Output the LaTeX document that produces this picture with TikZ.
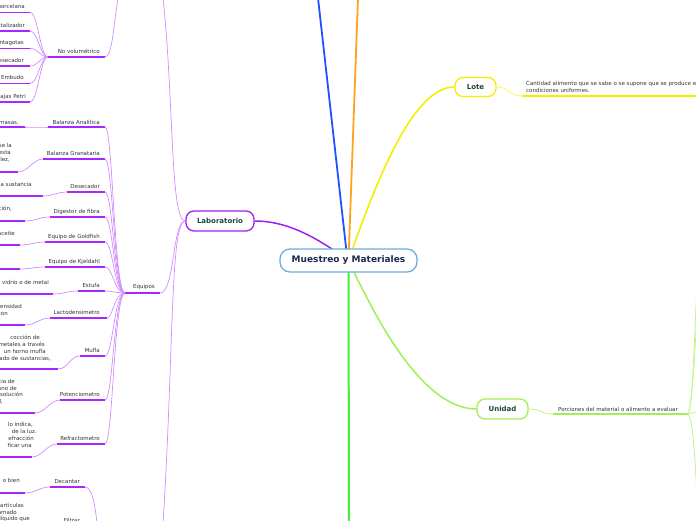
\documentclass[tikz,border=0pt]{standalone}
\usepackage{fontspec}
\setmainfont{DejaVu Sans}
\usetikzlibrary{calc,backgrounds}
\definecolor{ctext}{HTML}{333333}
\definecolor{cdark}{HTML}{1E4A3A}
\definecolor{cnavy}{HTML}{1B2A4E}
\definecolor{croot}{HTML}{6AAEE0}
\definecolor{cblue}{HTML}{2050FF}
\definecolor{corange}{HTML}{FFA21F}
\definecolor{cyellow}{HTML}{F0F000}
\definecolor{cyellowl}{HTML}{F8F860}
\definecolor{cgreen}{HTML}{45EE3A}
\definecolor{clime}{HTML}{A0F050}
\definecolor{climel}{HTML}{BFF585}
\definecolor{cmain}{HTML}{A020F0}
\definecolor{cpurple}{HTML}{A826FF}
\definecolor{clight}{HTML}{D08CFF}
\newcommand\eqitem[8]{%
 \coordinate (#1L) at (#4,#6); \coordinate (#1R) at (#5,#6);
 \coordinate (#1cL) at (-5,#8); \coordinate (#1cR) at (#7,#8);
 \draw[uline] (#1L) -- (#1R);
 \draw[uline] (#1cL) -- (#1cR);
 \node[lbl,anchor=base east] (#1T) at (100,#3) {#2};
 \draw[conn] (#1cR) .. controls ($(#1cR)+(10,0)$) and ($(#1L)-(10,0)$) .. (#1L);
 \draw[conn] (#1R) .. controls (113,#6) and (114,293) .. (eqL);
}
\newcommand\nvitem[4]{%
 \coordinate (#1L) at (-5,#4); \coordinate (#1R) at (30,#4);
 \draw[uline] (#1L) -- (#1R);
 \node[lbl,anchor=base east] (#1T) at (#3,#4-3.7) {#2};
 \draw[conn] (#1R) .. controls (38,#4) and (40,57) .. (nvL);
}
\begin{document}
\begin{tikzpicture}[x=1pt,y=-1pt,
 lbl/.style={font=\fontsize{5.5}{6.6}\selectfont, text=ctext, inner sep=0pt},
 uline/.style={draw=cpurple, line width=1.5pt},
 conn/.style={draw=clight, line width=0.7pt},
 topic/.style={draw, fill=white, rounded corners=8pt, line width=1.3pt,
   font=\bfseries\fontsize{7}{8}\selectfont, text=cdark, inner sep=0pt}
]
\useasboundingbox (0,0) rectangle (696,520);
\clip (0,0) rectangle (696,520);

% main nodes
\node[topic, draw=croot, rounded corners=10pt, minimum width=137pt, minimum height=23pt,
  font=\bfseries\fontsize{9}{10}\selectfont, text=cnavy] (root) at (348.5,260.5) {Muestreo y Materiales};
\node[topic, draw=cmain, minimum width=68pt, minimum height=20pt] (lab) at (220,221) {Laboratorio};
\node[topic, draw=cyellow, minimum width=41pt, minimum height=19pt] (lote) at (475.5,87) {Lote};
\node[topic, draw=clime, minimum width=51pt, minimum height=20pt] (uni) at (502.5,409) {Unidad};

\coordinate (bTop) at (318,-2);
\coordinate (oTop) at (358,-2);
\coordinate (gBot) at (349,523);
\begin{scope}[on background layer]
\draw[cblue, line width=1.8pt] (bTop) -- ([xshift=-1pt]root.center);
\draw[corange, line width=1.8pt] (oTop) -- (root.center);
\draw[cyellow, line width=1.6pt] (root.center) .. controls (380,170) and (415,87) .. (lote.west);
\draw[cmain, line width=1.5pt] (lab.east) .. controls (290,221) and (320,240) .. (root.center);
\draw[cgreen, line width=2pt] (root.center) -- (gBot);
\draw[clime, line width=1.5pt] (root.center) .. controls (372,310) and (420,409) .. (uni.west);
\end{scope}

% Lote detail
\coordinate (loL) at (522,96); \coordinate (loR) at (700,96);
\draw[cyellow, line width=1.6pt] (loL) -- (loR);
\draw[cyellowl, line width=0.8pt] (lote.east) .. controls (510,87) and (508,96) .. (loL);
\node[lbl, anchor=base west] (lot1) at (526,85.5) {Cantidad alimento que se sabe o se supone que se produce en};
\node[lbl, anchor=base west] (lot2) at (526,92.3) {condiciones uniformes.};

% Unidad detail
\coordinate (unL) at (553,414); \coordinate (unR) at (687,414);
\draw[clime, line width=1.5pt] (unL) -- (unR);
\draw[climel, line width=0.8pt] (uni.east) .. controls (542,409) and (540,414) .. (unL);
\node[lbl, anchor=base] (unt) at (618,411) {Porciones del material o alimento a evaluar};
\coordinate (un1) at (697,287); \coordinate (un2) at (697,312);
\coordinate (un3) at (697,412); \coordinate (un4) at (697,498);
\draw[climel, line width=0.8pt] (unR) .. controls (693,414) and (694,340) .. (un1);
\draw[climel, line width=0.8pt] (unR) .. controls (692,414) and (695,350) .. (un2);
\draw[climel, line width=0.8pt] (unR) -- (un3);
\draw[climel, line width=0.8pt] (unR) .. controls (693,414) and (695,460) .. (un4);

% Laboratorio branches
\coordinate (eqL) at (125,293); \coordinate (eqR) at (160,293);
\draw[uline] (eqL) -- (eqR);
\node[lbl, anchor=base east] (eqT) at (155,288.5) {Equipos};
\coordinate (labUp) at (163,-2); \coordinate (labDn) at (163,523);
\draw[conn] (lab.west) .. controls (172,221) and (175,293) .. (eqR);
\draw[conn] (lab.west) .. controls (170,221) and (174,100) .. (labUp);
\draw[conn] (lab.west) .. controls (170,221) and (174,350) .. (labDn);

% No volumetrico
\coordinate (nvL) at (48,57); \coordinate (nvR) at (105,57);
\coordinate (nvUp) at (118,-2);
\draw[uline] (nvL) -- (nvR);
\node[lbl, anchor=base east] (nvT) at (100,53.3) {No volumétrico};
\draw[conn] (nvR) .. controls (112,57) and (113,30) .. (nvUp);
\nvitem{nva}{porcelana}{25}{12.3}
\nvitem{nvb}{stalizador}{25}{31}
\nvitem{nvc}{ntagotas}{24}{48.3}
\nvitem{nvd}{esecador}{24}{66}
\nvitem{nve}{Embudo}{24}{83.5}
\nvitem{nvf}{ajas Petri}{26}{102}

% Equipos
\eqitem{ba}{Balanza Analítica}{124}{48}{105}{127}{25}{127}
\node[lbl,anchor=base east] (ba1) at (19,124) {masas.};
\eqitem{bg}{Balanza Granataria}{155.5}{43}{105}{159}{18}{172}
\node[lbl,anchor=base east] (bg1) at (12,147) {se la};
\node[lbl,anchor=base east] (bg2) at (11,154) {esta};
\node[lbl,anchor=base east] (bg3) at (10,161) {lez,};
\eqitem{de}{Desecador}{188.5}{67}{105}{192}{43}{196}
\node[lbl,anchor=base east] (de1) at (32,186) {a sustancia};
\eqitem{di}{Digestor de fibra}{213.3}{50}{105}{217}{25}{221}
\node[lbl,anchor=base east] (di1) at (12,210) {ción,};
\eqitem{go}{Equipo de Goldfish}{238.3}{45}{105}{242}{20}{245}
\node[lbl,anchor=base east] (go1) at (15,235) {aceite};
\eqitem{kj}{Equipo de Kjeldahl}{263.3}{45}{105}{267}{20}{269}
\eqitem{es}{Estufa}{287.5}{78}{105}{291}{53}{294}
\node[lbl,anchor=base east] (es1) at (49,284) {vidrio o de metal};
\eqitem{la}{Lactodensimetro}{314.5}{50}{107}{318}{25}{325}
\node[lbl,anchor=base east] (la1) at (22,308) {ensidad};
\node[lbl,anchor=base east] (la2) at (8,315) {con};
\eqitem{mu}{Mufla}{352.3}{80}{105}{356}{58}{369}
\node[lbl,anchor=base east] (mu1) at (40,339) {cocción de};
\node[lbl,anchor=base east] (mu2) at (45,346) {metales a través};
\node[lbl,anchor=base east] (mu3) at (46,353) {un horno mufla};
\node[lbl,anchor=base east] (mu4) at (51,360) {ado de sustancias,};
\eqitem{po}{Potenciometro}{396.3}{60}{105}{400}{35}{413}
\node[lbl,anchor=base east] (po1) at (15,383) {cia de};
\node[lbl,anchor=base east] (po2) at (17,390) {ano de};
\node[lbl,anchor=base east] (po3) at (23,396.5) {solución};
\node[lbl,anchor=base east] (po4) at (3,403) {l,};
\eqitem{re}{Refractometro}{440.3}{57}{105}{444}{32}{457}
\node[lbl,anchor=base east] (re1) at (33,426) {lo indica,};
\node[lbl,anchor=base east] (re2) at (37,433) {de la luz.};
\node[lbl,anchor=base east] (re3) at (34,440) {efracción};
\node[lbl,anchor=base east] (re4) at (32,447) {ficar una};

% Decantar / Filtrar
\coordinate (dcL) at (50,487); \coordinate (dcR) at (85,487);
\coordinate (dccL) at (-5,493); \coordinate (dccR) at (25,493);
\coordinate (dcDn) at (97,523);
\draw[uline] (dcL) -- (dcR);
\draw[uline] (dccL) -- (dccR);
\node[lbl,anchor=base east] (dcT) at (80,483.5) {Decantar};
\draw[conn] (dccR) .. controls (35,493) and (40,487) .. (dcL);
\draw[conn] (dcR) .. controls (92,487) and (95,505) .. (dcDn);
\node[lbl,anchor=base east] (dc1) at (20,482) {o bien};
\node[lbl,anchor=base east] (fiT) at (80,522.5) {Filtrar};
\node[lbl,anchor=base east] (fi1) at (24,507) {artículas};
\node[lbl,anchor=base east] (fi2) at (17,514) {amado};
\node[lbl,anchor=base east] (fi3) at (30,520.5) {líquido que};
\end{tikzpicture}
\end{document}
